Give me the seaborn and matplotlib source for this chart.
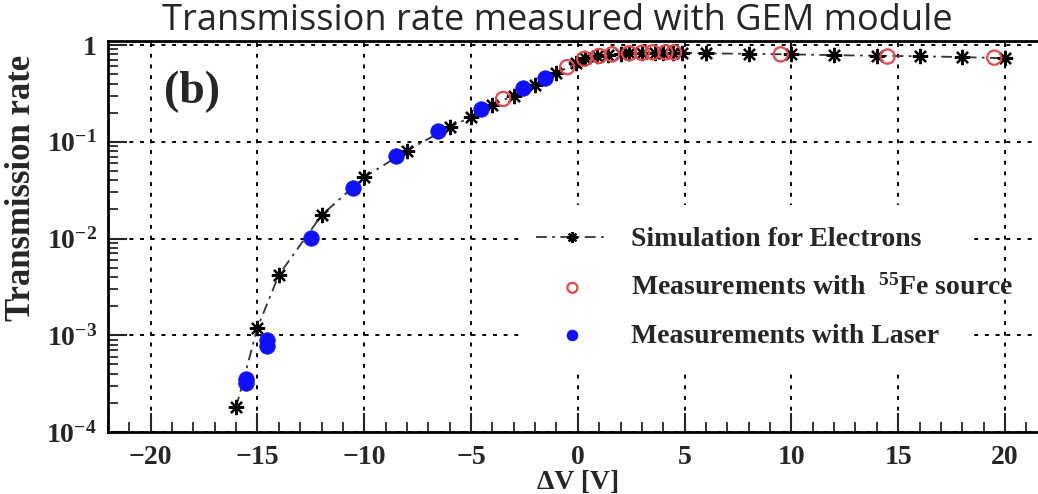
import numpy as np
import pandas as pd
import matplotlib
matplotlib.use("Agg")
import matplotlib.pyplot as plt
import matplotlib.ticker as mticker
from matplotlib.patches import Rectangle
import seaborn as sns

# ---- data ----
sim_x = [-16, -15, -14, -12, -10, -8, -6, -5, -4, -3, -2, -1, -0.1, 0.35, 0.9, 1.4,
         2.0, 2.4, 3.0, 3.6, 4.0, 4.45, 4.9, 6, 8, 10, 12, 14, 16, 18, 20]
sim_y = [1.8e-4, 1.2e-3, 4.2e-3, 0.0174, 0.043, 0.081, 0.142, 0.18, 0.24, 0.30, 0.39,
         0.51, 0.65, 0.73, 0.77, 0.79, 0.81, 0.82, 0.83, 0.835, 0.835, 0.835, 0.83,
         0.82, 0.81, 0.80, 0.785, 0.775, 0.765, 0.75, 0.73]

fe_x = [-3.5, -0.5, 0.3, 1.0, 1.6, 2.4, 3.0, 3.5, 4.1, 4.5, 9.5, 14.5, 19.5]
fe_y = [0.277, 0.59, 0.72, 0.77, 0.80, 0.82, 0.83, 0.84, 0.84, 0.84, 0.80, 0.76, 0.74]

laser_x = [-15.55, -15.55, -14.57, -14.57, -12.5, -10.55, -8.5, -6.55, -4.55, -2.55, -1.55]
laser_y = [3.2e-4, 3.5e-4, 7.8e-4, 9.0e-4, 0.0102, 0.033, 0.072, 0.13, 0.22, 0.36, 0.46]

title = "Transmission rate measured with GEM module"
x_label = "ΔV [V]"
y_label = "Transmission rate"
panel = "(b)"
lab_sim = "Simulation for Electrons"
lab_fe = "Measurements with  $^{55}$Fe source"
lab_laser = "Measurements with Laser"

# ---- style ----
sns.set_style("ticks")
plt.rcParams["font.family"] = ["Liberation Serif", "DejaVu Serif"]
plt.rcParams["font.weight"] = "bold"
plt.rcParams["mathtext.fontset"] = "custom"
plt.rcParams["mathtext.rm"] = "Liberation Serif:bold"
plt.rcParams["mathtext.bf"] = "Liberation Serif:bold"
plt.rcParams["mathtext.it"] = "Liberation Serif:bold"
plt.rcParams["axes.unicode_minus"] = True

W, H = 1038, 494
fig = plt.figure(figsize=(W / 100, H / 100), dpi=100)
x0, x1 = 108, 1047.7
y0, y1 = 41, 432
ax = fig.add_axes([x0 / W, 1 - y1 / H, (x1 - x0) / W, (y1 - y0) / H])
ax.set_axisbelow(True)

df_sim = pd.DataFrame({"x": sim_x, "y": sim_y})
df_fe = pd.DataFrame({"x": fe_x, "y": fe_y})
df_las = pd.DataFrame({"x": laser_x, "y": laser_y})

sns.lineplot(data=df_sim, x="x", y="y", ax=ax, color="#333333", lw=1.3,
             linestyle=(0, (6, 3, 1.5, 3)), marker=(8, 2, 0), markersize=11,
             markeredgewidth=1.6, markeredgecolor="black", sort=False,
             label=lab_sim, zorder=3)
sns.scatterplot(data=df_fe, x="x", y="y", ax=ax, marker="o", s=105,
                facecolors="none", edgecolors="#e8474a", linewidths=1.6,
                label=lab_fe, zorder=4)
sns.scatterplot(data=df_las, x="x", y="y", ax=ax, marker="o", s=125,
                color="#1010ff", edgecolor="#1010ff", linewidth=0.5,
                label=lab_laser, zorder=5)

ax.set_yscale("log")
ax.set_xlim(-22, 22)
ax.set_ylim(1e-4, 1.1)

ax.xaxis.set_major_locator(mticker.MultipleLocator(5))
ax.xaxis.set_minor_locator(mticker.MultipleLocator(1))
ax.yaxis.set_major_locator(mticker.LogLocator(base=10, numticks=10))
ax.yaxis.set_minor_locator(mticker.LogLocator(base=10, subs=np.arange(2, 10), numticks=10))
ax.yaxis.set_minor_formatter(mticker.NullFormatter())


def yfmt(v, pos):
    e = int(round(np.log10(v)))
    if e == 0:
        return "1"
    return r"$10^{%d}$" % e


ax.yaxis.set_major_formatter(mticker.FuncFormatter(yfmt))
ax.xaxis.set_major_formatter(mticker.FuncFormatter(
    lambda v, p: ("\u2212%d" % abs(v)) if v < 0 else "%d" % v))

ax.tick_params(axis="x", which="major", direction="in", length=14, width=1.5,
               labelsize=20, top=False, pad=9)
ax.tick_params(axis="y", which="major", direction="in", length=14, width=1.5,
               labelsize=20, right=False, pad=8)
ax.tick_params(axis="both", which="minor", direction="in", length=7, width=1.3,
               top=False, right=False)
ax.grid(True, which="major", color="black", linestyle=(0, (2, 3.5)), lw=1.4)
for sp in ax.spines.values():
    sp.set_linewidth(2.0)
    sp.set_color("black")

# white area behind the legend (hides the grid as in the reference)
ax.add_patch(Rectangle((0.438, 0.16), 0.477, 0.42, transform=ax.transAxes,
                       facecolor="white", edgecolor="none", zorder=1))

ax.set_xlabel("")
ax.set_ylabel("")
fig.text(578 / W, 1 - 482 / H, x_label, ha="center", va="center",
         fontsize=20, fontweight="bold")
fig.text(22 / W, 1 - 188 / H, y_label, ha="center", va="center",
         rotation=90, fontsize=25, fontweight="bold")
fig.text(557 / W, 1 - 21 / H, title, ha="center", va="center",
         fontsize=26, family="Open Sans", fontweight="normal")
ax.text(0.06, 0.87, panel, transform=ax.transAxes, fontsize=33,
        fontweight="bold", ha="left", va="center")

leg = ax.legend(loc="upper left", bbox_to_anchor=(0.441, 0.56), frameon=False,
                fontsize=20, handlelength=2.6, markerscale=0.7,
                handletextpad=0.8, labelspacing=0.8, borderpad=0.0)
leg.set_zorder(6)
for t in leg.get_texts():
    t.set_fontweight("bold")

fig.savefig("out.png", dpi=100)
